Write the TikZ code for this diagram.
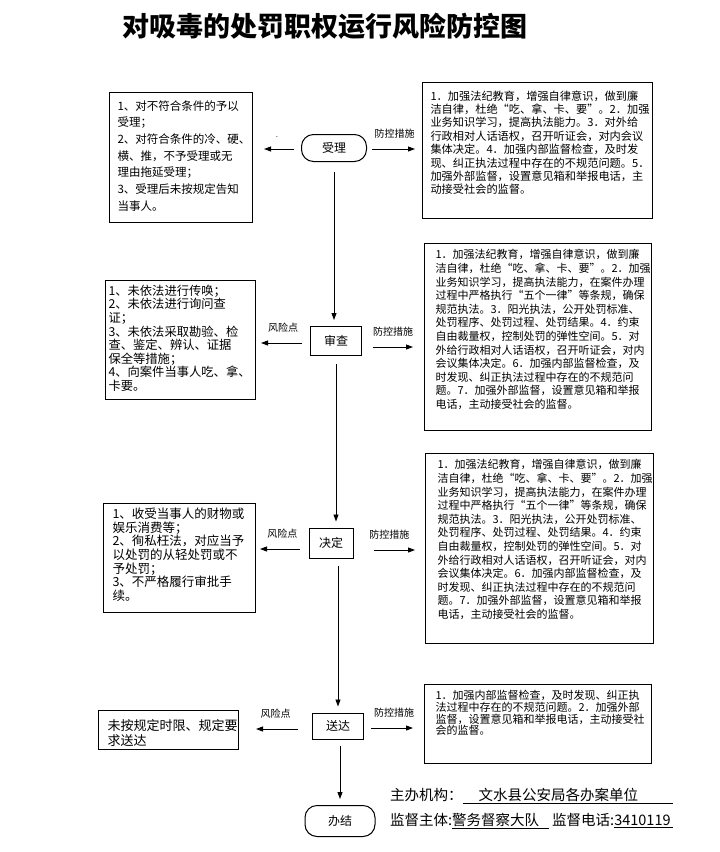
\documentclass[tikz,border=0pt]{standalone}
\usepackage{fontspec}
\setmainfont{Noto Sans CJK SC}
\usetikzlibrary{arrows.meta,positioning}

\tikzset{
  stage/.style={draw,line width=1pt,inner sep=0pt,font=\fontsize{12pt}{14pt}\selectfont},
  oval/.style={stage,rounded corners=12pt},
  tbox/.style={draw,line width=1pt,anchor=north west},
  conn/.style={line width=0.9pt,-{Triangle[length=7pt,width=5pt]}},
  tag/.style={font=\fontsize{10pt}{12pt}\selectfont,above=7pt,midway},
  foot/.style={anchor=base west,inner sep=0pt,font=\fontsize{14.5pt}{17pt}\selectfont}
}

\begin{document}
\begin{tikzpicture}[x=1pt,y=-1pt]
\newcommand{\Lines}[3]{\parbox[c][#1][t]{#2}{\lineskiplimit=-20pt #3}}
\newcommand{\MeasText}{1．加强法纪教育，增强自律意识，做到廉\\
洁自律，杜绝“吃、拿、卡、要”。2．加强\\
业务知识学习，提高执法能力，在案件办理\\
过程中严格执行“五个一律”等条规，确保\\
规范执法。3．阳光执法，公开处罚标准、\\
处罚程序、处罚过程、处罚结果。4．约束\\
自由裁量权，控制处罚的弹性空间。5．对\\
外给行政相对人话语权，召开听证会，对内\\
会议集体决定。6．加强内部监督检查，及\\
时发现、纠正执法过程中存在的不规范问\\
题。7．加强外部监督，设置意见箱和举报\\
电话，主动接受社会的监督。}
\useasboundingbox (0,0) rectangle (720,852);

\node[font=\bfseries\fontsize{27pt}{30pt}\selectfont] (title) at (325,26) {对吸毒的处罚职权运行风险防控图};

% flow steps
\node[oval,minimum width=65pt,minimum height=27pt] (sl) at (334,148) {受理};
\node[stage,minimum width=51pt,minimum height=29pt] (sc) at (336,341) {审查};
\node[stage,minimum width=44pt,minimum height=30pt] (jd) at (331,543) {决定};
\node[stage,minimum width=51pt,minimum height=26pt] (sd) at (338,726) {送达};
\node[oval,minimum width=70pt,minimum height=31pt] (bj) at (340,821) {办结};

% risk points
\node[tbox,inner xsep=8pt,inner ysep=7.8pt,font=\fontsize{11.5pt}{16.7pt}\selectfont] (lb1) at (109,92)
  {\Lines{114.4pt}{127pt}{1、对不符合条件的予以\\受理；\\2、对符合条件的冷、硬、\\横、推，不予受理或无\\理由拖延受理；\\3、受理后未按规定告知\\当事人。}};
\node[tbox,inner xsep=3pt,inner ysep=4.5pt,font=\fontsize{12.3pt}{13.6pt}\selectfont] (lb2) at (105,280)
  {\Lines{110pt}{144pt}{1、未依法进行传唤；\\2、未依法进行询问查\\证；\\3、未依法采取勘验、检\\查、鉴定、辨认、证据\\保全等措施；\\4、向案件当事人吃、拿、\\卡要。}};
\node[tbox,inner xsep=9pt,inner ysep=4.4pt,font=\fontsize{12.5pt}{13.7pt}\selectfont] (lb3) at (103,503)
  {\Lines{100.2pt}{134pt}{1、收受当事人的财物或\\娱乐消费等；\\2、徇私枉法，对应当予\\以处罚的从轻处罚或不\\予处罚；\\3、不严格履行审批手\\续。}};
\node[tbox,inner xsep=9pt,inner ysep=9.1pt,font=\fontsize{13pt}{15pt}\selectfont] (lb4) at (98,710)
  {\Lines{20.8pt}{122pt}{未按规定时限、规定要\\求送达}};

% measures
\node[tbox,inner xsep=8pt,inner ysep=8pt,font=\fontsize{11.2pt}{13.4pt}\selectfont] (rb1) at (422,82)
  {\Lines{120pt}{214pt}{1．加强法纪教育，增强自律意识，做到廉\\
洁自律，杜绝“吃、拿、卡、要”。2．加强\\
业务知识学习，提高执法能力。3．对外给\\
行政相对人话语权，召开听证会，对内会议\\
集体决定。4．加强内部监督检查，及时发\\
现、纠正执法过程中存在的不规范问题。5．\\
加强外部监督，设置意见箱和举报电话，主\\
动接受社会的监督。}};
\node[tbox,inner xsep=11pt,inner ysep=6pt,font=\fontsize{11pt}{13.6pt}\selectfont] (rb2) at (424,243)
  {\Lines{175pt}{205pt}{\MeasText}};
\node[tbox,inner xsep=12pt,inner ysep=6pt,font=\fontsize{11pt}{13.6pt}\selectfont] (rb3) at (425,453)
  {\Lines{178pt}{204pt}{\MeasText}};
\node[tbox,inner xsep=11pt,inner ysep=6pt,font=\fontsize{11pt}{11.7pt}\selectfont] (rb4) at (424,684)
  {\Lines{67pt}{205pt}{1．加强内部监督检查，及时发现、纠正执\\
法过程中存在的不规范问题。2．加强外部\\
监督，设置意见箱和举报电话，主动接受社\\
会的监督。}};

% main line
\draw[conn,shorten <=10pt,shorten >=6pt] (sl.south) -- (sl.south |- sc.north);
\draw[conn,shorten <=8pt,shorten >=6pt] (sc.south) -- (sc.south |- jd.north);
\draw[conn,shorten <=7pt,shorten >=6pt] (sd.north |- jd.south) -- (sd.north);
\draw[conn,shorten <=6pt,shorten >=6pt] (bj.north |- sd.south) -- (bj.north);

% side arrows
\draw[conn,shorten <=7pt,shorten >=11pt,transform canvas={yshift=-1pt}] (sl.west) -- (sl.west -| lb1.east)
  node[tag,font=\fontsize{6pt}{6pt}\selectfont] {-};
\foreach \n/\b/\dy/\sa/\sb in {sc/lb2/-2/8/5, jd/lb3/-6/9/4, sd/lb4/-3/14/17}
  \draw[conn,shorten <=\sa pt,shorten >=\sb pt,transform canvas={yshift=\dy pt}] (\n.west) -- (\n.west -| \b.east)
    node[tag] {风险点};
\foreach \n/\b/\dy/\sa/\sb in {sl/rb1/-1/5/7, sc/rb2/-6/11/11, jd/rb3/-7/20/10, sd/rb4/-2/7/11}
  \draw[conn,shorten <=\sa pt,shorten >=\sb pt,transform canvas={yshift=\dy pt}] (\n.east) -- (\n.east -| \b.west)
    node[tag] {防控措施};

% footer
\node[foot] (org) at (390,800.5) {主办机构：\underline{\hspace{16pt}文水县公安局各办案单位\hspace{35pt}}};
\node[foot] (sup) at (390,825.5) {监督主体:\underline{警务督察大队\hspace{10pt}}\hspace{3pt}监督电话:\underline{3410119\hspace{2pt}}};
\end{tikzpicture}
\end{document}
